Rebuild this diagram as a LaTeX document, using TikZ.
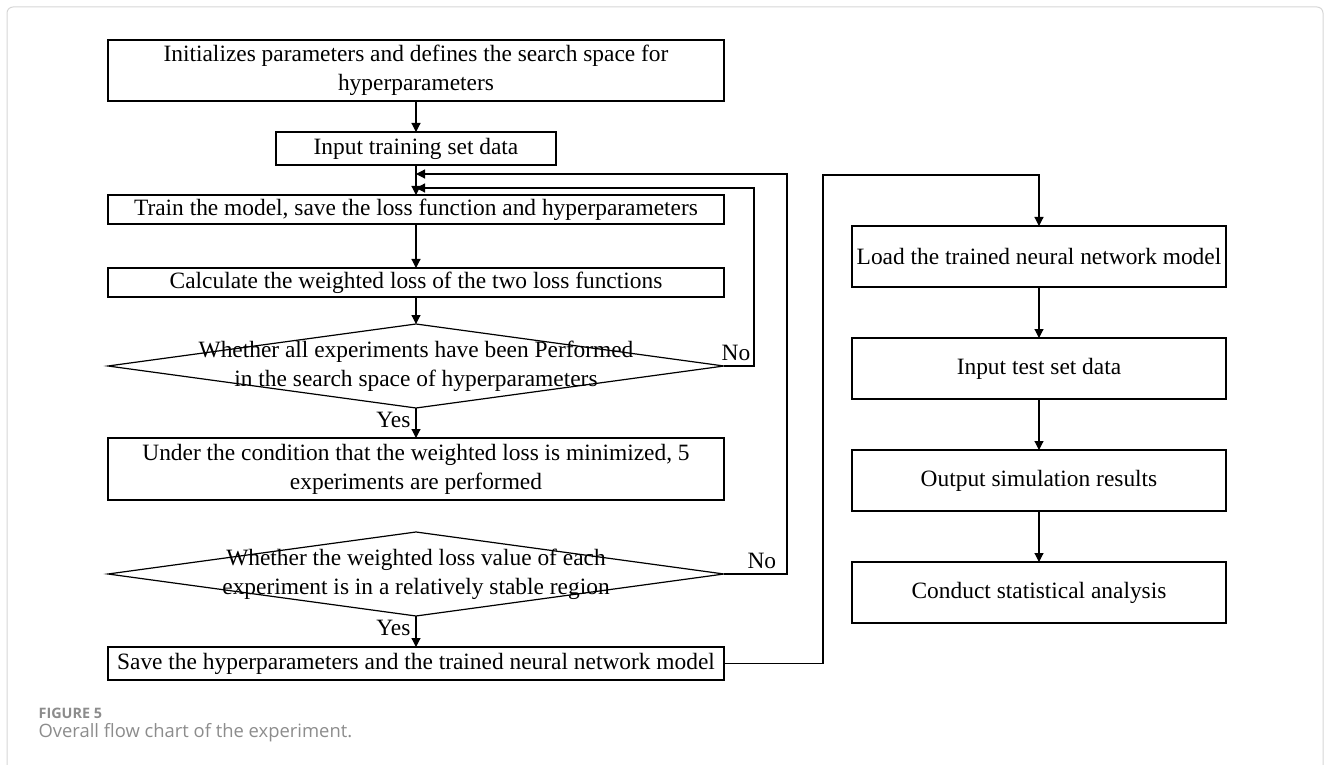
\documentclass[tikz,border=0pt]{standalone}
\usepackage{fontspec}
\setmainfont{Liberation Serif}
\newfontfamily\legende{Open Sans}
\usetikzlibrary{arrows.meta,positioning,shapes.geometric}
\definecolor{grisleg}{HTML}{8C8C8C}
\definecolor{griscadre}{HTML}{D6D6D6}

\begin{document}
\begin{tikzpicture}[x=0.5pt,y=-0.5pt,line width=0.6pt,
   fleche/.style={-{Triangle[length=4.5pt,width=4.5pt]}},
   etape/.style={draw,rectangle,align=center,inner sep=1pt,outer sep=0pt,font=\fontsize{11.7}{14.5}\selectfont},
   large/.style={etape,minimum width=308pt},
   colonne/.style={etape,minimum width=187pt,minimum height=30.5pt},
   decision/.style={draw,diamond,inner sep=0pt,outer sep=0pt,minimum width=308pt,minimum height=42pt},
   texte/.style={align=center,inner sep=0pt,font=\fontsize{11.7}{14.5}\selectfont},
   rep/.style={font=\fontsize{11.7}{14.5}\selectfont,inner sep=2.5pt}]

  \useasboundingbox (0,0) rectangle (1330,765);
  \begin{scope}
    \clip (0,0) rectangle (1330,765);
    \draw[griscadre,line width=0.5pt,rounded corners=3pt] (7,7) rectangle (1323,800);
  \end{scope}

  % colonne de gauche
  \node[large,minimum height=30.5pt] (init) at (416,70.5) {Initializes parameters and defines the search space for\\hyperparameters};
  \node[etape,minimum width=140pt,minimum height=16.5pt] (entree) [below=15.5pt of init] {Input training set data};
  \node[large,minimum height=14.5pt] (train) [below=15pt of entree] {Train the model, save the loss function and hyperparameters};
  \node[large,minimum height=14.5pt] (calcul) [below=22pt of train] {Calculate the weighted loss of the two loss functions};
  \node[decision,label={[texte]center:{Whether all experiments have been Performed\\in the search space of hyperparameters}}] (d1) [below=13.5pt of calcul] {};
  \node[large,minimum height=31pt] (cond) [below=15pt of d1] {Under the condition that the weighted loss is minimized, 5\\experiments are performed};
  \node[decision,label={[texte]center:{Whether the weighted loss value of each\\experiment is in a relatively stable region}}] (d2) [below=16pt of cond] {};
  \node[large,minimum height=16.5pt] (sauve) [below=15.5pt of d2] {Save the hyperparameters and the trained neural network model};

  % colonne de droite
  \node[colonne] (charge) at (1039,256.5) {Load the trained neural network model};
  \node[colonne] (essai) [below=25.5pt of charge] {Input test set data};
  \node[colonne] (sortie) [below=25.5pt of essai] {Output simulation results};
  \node[colonne] (stat) [below=25.5pt of sortie] {Conduct statistical analysis};

  \foreach \de/\vers in {init/entree,entree/train,train/calcul,calcul/d1,charge/essai,essai/sortie,sortie/stat}
    \draw[fleche] (\de) -- (\vers);
  \draw[fleche] (d1) -- node[rep,left,pos=0.4] {Yes} (cond);
  \draw[fleche] (d2) -- node[rep,left,pos=0.4] {Yes} (sauve);

  % boucles
  \coordinate (retour1) at (416,188);
  \coordinate (retour2) at (416,174);
  \coordinate (coude) at (823,175);
  \draw[fleche] (d1.east) -- node[rep,above,pos=0.4] {No} ++(30,0) |- (retour1);
  \draw[fleche] (d2.east) -- node[rep,above,pos=0.6] {No} ++(63,0) |- (retour2);
  \draw[fleche] (sauve.east) -| (coude) -| (charge.north);

  % legende
  \node[anchor=west,inner sep=0pt,text=grisleg,font=\legende\bfseries\fontsize{7.2}{9}\selectfont] (fig) at (38,713) {FIGURE 5};
  \node[anchor=west,inner sep=0pt,text=grisleg,font=\legende\fontsize{9.2}{11}\selectfont] (leg) at (38,733) {Overall flow chart of the experiment.};
\end{tikzpicture}
\end{document}
